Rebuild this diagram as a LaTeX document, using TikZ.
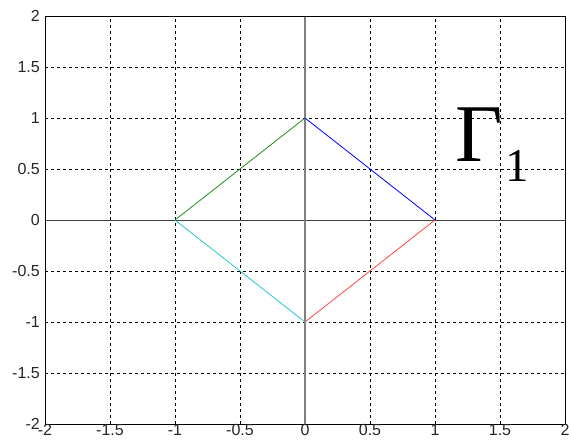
\documentclass[tikz,border=0pt]{standalone}
\usepackage{fontspec}
\setmainfont{Liberation Sans}
\newfontfamily\gammafont{Liberation Serif}
\definecolor{mycyan}{RGB}{40,200,205}
\definecolor{mygreen}{RGB}{30,140,30}
\definecolor{myred}{RGB}{255,70,70}
\begin{document}
\begin{tikzpicture}[x=130pt,y=102pt,
  gridline/.style={black, line width=0.7pt, dash pattern=on 3pt off 3pt},
  ticklabel/.style={font=\fontsize{16}{16}\selectfont, inner sep=0pt, text=black!85},
  curve/.style={line width=0.8pt}]
\useasboundingbox (-305pt,-227pt) rectangle (264pt,220pt);
% grid
\foreach \v in {-1.5,-1,-0.5,0.5,1,1.5} {
  \draw[gridline] (\v,-2) -- (\v,2);
  \draw[gridline] (-2,\v) -- (2,\v);
}
% axes lines through origin
\draw[black!75, line width=0.9pt] (-2,0) -- (2,0);
\draw[black!50, line width=1.6pt] (0,-2) -- (0,2);
% frame
\draw[black, line width=0.9pt] (-2,-2) rectangle (2,2);
% tick labels
\foreach \v/\n in {-2/a,-1.5/b,-1/c,-0.5/d,0/e,0.5/f,1/g,1.5/h,2/i} {
  \node[ticklabel, anchor=east] (yl\n) at ([xshift=-5pt]-2,\v) {\v};
  \node[ticklabel, anchor=center] (xl\n) at ([yshift=-6pt]\v,-2) {\v};
}
% diamond
\coordinate (top) at (0,1);
\coordinate (right) at (1,0);
\coordinate (bottom) at (0,-1);
\coordinate (left) at (-1,0);
\draw[curve, blue] (top) -- (right);
\draw[curve, myred] (right) -- (bottom);
\draw[curve, mycyan] (bottom) -- (left);
\draw[curve, mygreen] (left) -- (top);
% label
\node[anchor=base west, inner sep=0pt, font=\gammafont\fontsize{82}{82}\selectfont] (gam) at (150pt,59pt) {Γ};
\node[anchor=base west, inner sep=0pt, font=\gammafont\fontsize{47}{47}\selectfont] (sub) at (200pt,39pt) {1};
\end{tikzpicture}
\end{document}
